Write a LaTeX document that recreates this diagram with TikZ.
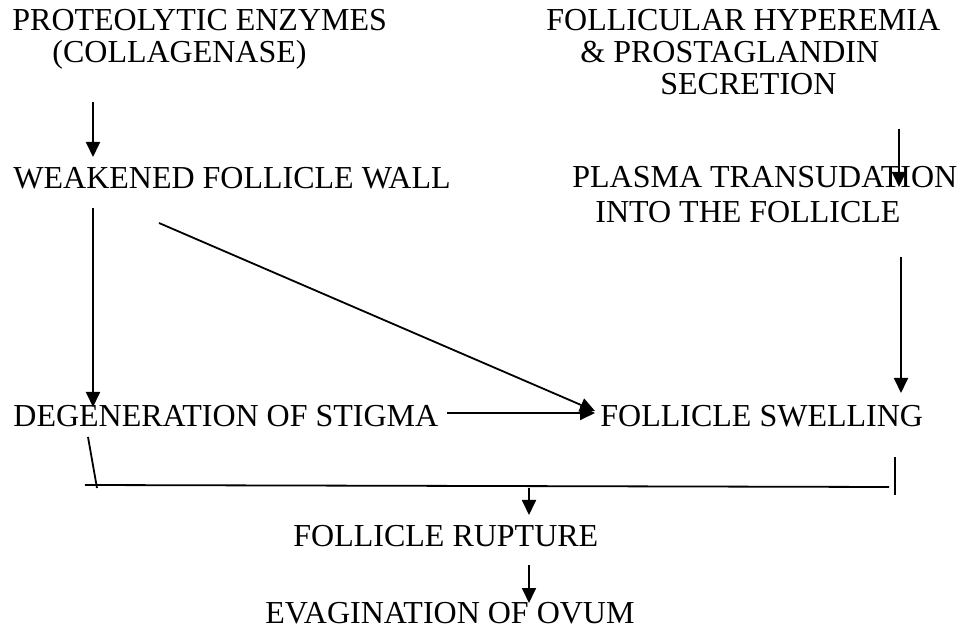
\documentclass[tikz,border=0pt]{standalone}
\usepackage{fontspec}
\setmainfont{Liberation Serif}
\usepackage{tikz}
\usetikzlibrary{arrows.meta}

\tikzset{
  lbl/.style={anchor=base west,inner sep=0pt,font=\fontsize{16}{19}\selectfont},
  arr/.style={line width=0.9pt,-{Triangle[length=7.5pt,width=7pt]}},
  ln/.style={line width=0.9pt}
}

\begin{document}
\begin{tikzpicture}[x=0.5pt,y=-0.5pt]
            \useasboundingbox (0,0) rectangle (965,636);
          % causes
          \node [lbl] (enz) at (12,31) {PROTEOLYTIC ENZYMES};
          \node [lbl] (coll) at (52,63) {(COLLAGENASE)};
          \node [lbl] (hyp) at (546,31) {FOLLICULAR HYPEREMIA};
          \node [lbl] (prost) at (580,63) {\& PROSTAGLANDIN};
          \node [lbl] (secr) at (660,95) {SECRETION};
          % intermediate steps
          \node [lbl] (weak) at (13,189) {WEAKENED FOLLICLE WALL};
          \node [lbl] (plasma) at (572,188) {PLASMA TRANSUDATION};
          \node [lbl] (into) at (595,223) {INTO THE FOLLICLE};
          \node [lbl] (degen) at (13,427) {DEGENERATION OF STIGMA};
          \node [lbl] (swell) at (600,427) {FOLLICLE SWELLING};
          % outcome
          \node [lbl] (rupt) at (293,546) {FOLLICLE RUPTURE};
          \node [lbl] (evag) at (265,624) {EVAGINATION OF OVUM};
          % arrow ends
          \coordinate (c1) at (93,102);   \coordinate (w1) at (93,157);
          \coordinate (s1) at (899,129);  \coordinate (p1) at (899,187);
          \coordinate (w2) at (93,208);   \coordinate (d1) at (93,407);
          \coordinate (w3) at (159,223);  \coordinate (f1) at (595,411);
          \coordinate (d2) at (447,413);  \coordinate (f2) at (595,413);
          \coordinate (i1) at (901,257);  \coordinate (f3) at (901,393);
          \coordinate (d3) at (88,437);   \coordinate (j1) at (97,488);
          \coordinate (jl) at (85,485);   \coordinate (jr) at (889,487);
          \coordinate (t1) at (895,457);  \coordinate (t2) at (895,495);
          \coordinate (m1) at (529,488);  \coordinate (r1) at (529,515);
          \coordinate (r2) at (529,565);  \coordinate (e1) at (529,603);
          \draw [arr] (c1) -- (w1);
          \draw [arr] (s1) -- (p1);
          \draw [arr] (w2) -- (d1);
          \draw [arr] (w3) -- (f1);
          \draw [arr] (d2) -- (f2);
          \draw [arr] (i1) -- (f3);
          \draw [ln] (d3) -- (j1);
          \draw [ln] (jl) -- (jr);
          \draw [ln] (t1) -- (t2);
          \draw [arr] (m1) -- (r1);
          \draw [arr] (r2) -- (e1);
        \end{tikzpicture}
\end{document}
